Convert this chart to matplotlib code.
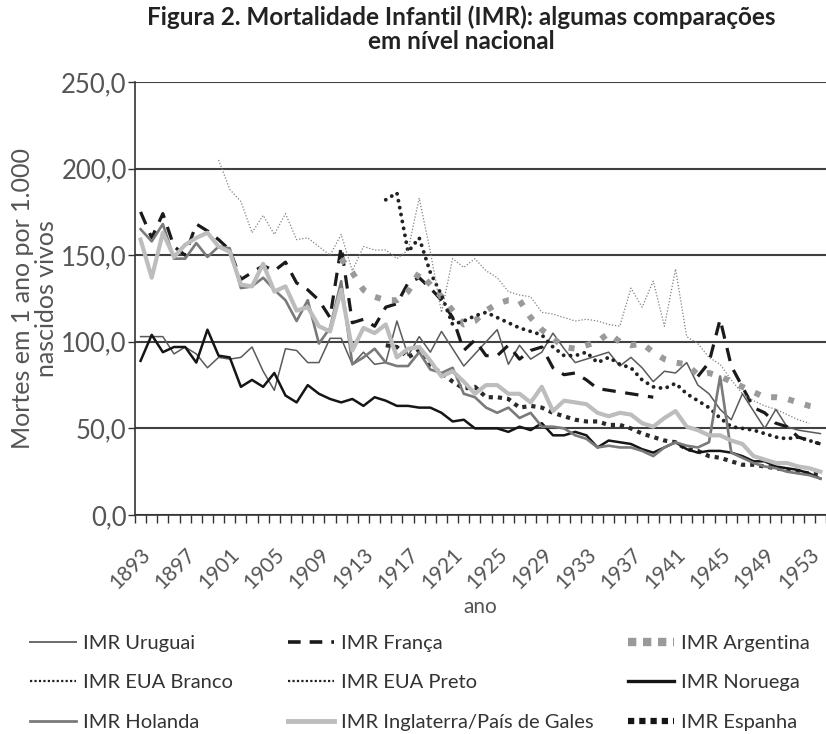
import numpy as np
import matplotlib
matplotlib.use('Agg')
import matplotlib.pyplot as plt
from matplotlib.lines import Line2D

plt.rcParams['font.family'] = ['Lato', 'DejaVu Sans']

nan = np.nan
anos = list(range(1893, 1955))
rotulos_x = list(range(1893, 1955, 4))

# valores (por 1.000 nascidos vivos), 1893-1954
uruguai = [103, 103, 103, 93, 97, 93, 85, 91, 90, 91,
           97, 83, 72, 96, 95, 88, 88, 102, 102, 87,
           94, 87, 88, 112, 92, 103, 94, 106, 96, 86,
           93, 100, 107, 87, 98, 90, 94, 105, 96, 88,
           90, 92, 94, 86, 91, 85, 77, 83, 82, 88,
           75, 70, 61, 55, 70, 60, 50, 61, 51, 49,
           48, 47]
franca = [175, 160, 174, 155, 150, 168, 164, 159, 153, 136,
          140, 144, 141, 146, 134, 130, 124, 114, 155, 111,
          113, 109, 120, 122, 134, 137, 131, 124, 114, 95,
          101, 92, 92, 98, 90, 95, 97, 85, 81, 82,
          78, 73, 72, 71, 70, 69, 68, nan, nan, nan,
          80, 88, 113, 86, 74, 62, 59, 53, 51, 45,
          43, 41]
argentina = [nan] * 18 + [148, 140,
             130, 126, 124, 124, 129, 140, 133, 126, 118, 110,
             112, 118, 122, 124, 124, 114, 107, 102, 97, 96,
             98, 100, 105, 100, 98, 99, 94, 90, 88, 87,
             81, 82, 80, 77, 74, 71, 68, 68, 67, 65,
             63, 62]
eua_branco = [nan] * 22 + [98, 97, 91, 95, 86, 82, 77, 73,
              74, 68, 68, 67, 62, 63, 62, 59, 57, 55,
              54, 54, 52, 52, 50, 47, 45, 43, 42, 38,
              37, 34, 33, 31, 29, 29, 28, 27, 26, 25,
              24, 23]
eua_preto = [nan] * 22 + [182, 186, 152, 160, 140, 127, 110, 112,
             115, 117, 114, 111, 108, 106, 104, 97, 92, 92,
             94, 88, 91, 87, 85, 78, 74, 73, 76, 70,
             66, 62, 56, 51, 50, 49, 47, 45, 44, 45,
             43, 41]
noruega = [89, 104, 94, 97, 97, 88, 107, 92, 91, 74,
           78, 74, 82, 69, 65, 75, 70, 67, 65, 67,
           63, 68, 66, 63, 63, 62, 62, 59, 54, 55,
           50, 50, 50, 48, 51, 49, 53, 46, 46, 48,
           46, 39, 43, 42, 41, 38, 36, 39, 42, 38,
           36, 37, 37, 36, 34, 31, 31, 28, 27, 26,
           24, 21]
holanda = [165, 158, 168, 148, 148, 157, 149, 155, 154, 131,
           132, 137, 130, 124, 112, 124, 99, 108, 135, 87,
           91, 96, 88, 86, 86, 94, 84, 82, 85, 70,
           68, 62, 59, 62, 56, 59, 51, 51, 50, 46,
           44, 39, 40, 39, 39, 37, 34, 39, 42, 40,
           39, 42, 80, 36, 33, 30, 28, 27, 25, 24,
           23, 21]
inglaterra = [159, 137, 163, 149, 156, 160, 163, 155, 152, 133,
              132, 145, 129, 132, 118, 120, 109, 106, 130, 95,
              108, 105, 110, 91, 96, 97, 89, 80, 83, 77,
              70, 75, 75, 70, 70, 65, 74, 60, 66, 65,
              64, 59, 57, 59, 58, 53, 51, 56, 60, 51,
              49, 46, 46, 43, 41, 34, 32, 30, 30, 28,
              27, 25]
espanha = [nan] * 7 + [205, 188, 181,
           163, 173, 162, 174, 159, 160, 155, 150, 162, 141,
           155, 153, 153, 148, 153, 183, 152, 117, 148, 143,
           148, 141, 137, 129, 127, 126, 117, 116, 114, 112,
           113, 112, 110, 109, 131, 120, 135, 109, 142, 103,
           99, 91, 87, 78, 70, 66, 63, 61, 58, 55,
           53, nan]

fig = plt.figure(figsize=(8.26, 7.34), dpi=100)
ax = fig.add_axes([135 / 826, 1 - 515 / 734, 691 / 826, 433 / 734])

ax.plot(anos, uruguai, color='#5a5a5a', lw=1.1)
ax.plot(anos, franca, color='#1a1a1a', lw=2.3, linestyle=(0, (4.2, 3.0)), dash_capstyle='butt')
ax.plot(anos, argentina, color='#9a9a9a', lw=4.3, linestyle=(0, (1, 1.9)), dash_capstyle='butt')
ax.plot(anos, eua_branco, color='#2a2a2a', lw=3.0, linestyle=(0, (1, 1.2)), dash_capstyle='butt')
ax.plot(anos, eua_preto, color='#222222', lw=2.8, linestyle=(0, (0.01, 1.8)), dash_capstyle='round')
ax.plot(anos, noruega, color='#151515', lw=1.8)
ax.plot(anos, holanda, color='#7a7a7a', lw=1.9)
ax.plot(anos, inglaterra, color='#bdbdbd', lw=3.0)
ax.plot(anos, espanha, color='#808080', lw=0.9, linestyle=(0, (1, 1.5)))

ax.set_xlim(1892.5, 1954.5)
ax.set_ylim(0, 250)
ax.set_yticks(range(0, 251, 50))
ax.set_yticklabels([f'{v},0' for v in range(0, 251, 50)])
ax.yaxis.grid(True, color='#404040', lw=1.5)
ax.set_axisbelow(True)
for s in ['top', 'right']:
    ax.spines[s].set_visible(False)
ax.spines['left'].set_color('#333333')
ax.spines['bottom'].set_color('#333333')
ax.spines['left'].set_linewidth(1.2)
ax.spines['bottom'].set_linewidth(1.2)

ax.set_xticks(rotulos_x)
ax.set_xticklabels([str(a) for a in rotulos_x], rotation=45, ha='right',
                   rotation_mode='anchor')
ax.set_xticks([a - 0.5 for a in anos] + [1954.5], minor=True)
ax.tick_params(axis='x', which='major', length=0, pad=21, labelsize=15, labelcolor='#555555')
ax.tick_params(axis='x', which='minor', length=6, width=1, color='#333333')
ax.tick_params(axis='y', length=5, width=1, pad=1, color='#333333', labelsize=18.5,
               labelcolor='#555555')

ax.set_xlabel('ano', fontsize=15, color='#555555', labelpad=3)
ax.set_ylabel('Mortes em 1 ano por 1.000\nnascidos vivos', fontsize=18,
              color='#555555', labelpad=2, linespacing=1.05)

fig.text(461 / 826, 1 - 5 / 734, 'Figura 2. Mortalidade Infantil (IMR): algumas comparações\nem nível nacional',
         ha='center', va='top', fontsize=17.5, fontweight='bold', color='#222222', linespacing=1.1)

# legenda em três colunas (estilos como no original)
h = {
    'IMR Uruguai': Line2D([], [], color='#6a6a6a', lw=1.4),
    'IMR França': Line2D([], [], color='#1a1a1a', lw=2.6, linestyle=(0, (3.5, 2.5))),
    'IMR Argentina': Line2D([], [], color='#9a9a9a', lw=6, linestyle=(0, (1, 0.8))),
    'IMR EUA Branco': Line2D([], [], color='#222222', lw=1.6, linestyle=(0, (1, 1))),
    'IMR EUA Preto': Line2D([], [], color='#222222', lw=1.6, linestyle=(0, (1, 1))),
    'IMR Noruega': Line2D([], [], color='#151515', lw=2.4),
    'IMR Holanda': Line2D([], [], color='#7a7a7a', lw=2.0),
    'IMR Inglaterra/País de Gales': Line2D([], [], color='#bdbdbd', lw=3.5),
    'IMR Espanha': Line2D([], [], color='#151515', lw=4.5, linestyle=(0, (1, 0.8))),
}
colunas = [['IMR Uruguai', 'IMR EUA Branco', 'IMR Holanda'],
           ['IMR França', 'IMR EUA Preto', 'IMR Inglaterra/País de Gales'],
           ['IMR Argentina', 'IMR Noruega', 'IMR Espanha']]
x_col = [30, 288, 628]
for xc, nomes in zip(x_col, colunas):
    leg = fig.legend([h[n] for n in nomes], nomes, loc='upper left',
                     bbox_to_anchor=(xc / 826, 1 - 635 / 734), frameon=False,
                     fontsize=14.5, handlelength=2.3, handletextpad=0.35,
                     borderpad=0, borderaxespad=0, labelspacing=1.1,
                     labelcolor='#333333')

fig.savefig('out.png', dpi=100)
